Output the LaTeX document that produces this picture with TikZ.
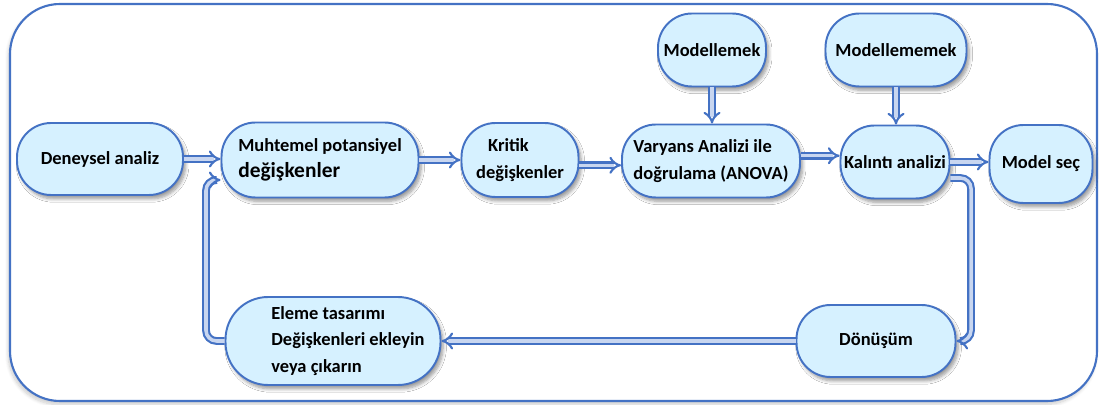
\documentclass[tikz,border=0pt]{standalone}
\usepackage{fontspec}
\setmainfont{Carlito}
\usetikzlibrary{arrows.meta,shadows,shadows.blur}
\definecolor{boxfill}{RGB}{214,241,255}
\definecolor{boxline}{RGB}{68,114,196}
\definecolor{pipe}{RGB}{200,214,240}
\tikzset{
  stepbox/.style={draw=boxline, line width=1.1pt, fill=boxfill, rounded corners=0.68cm,
    font=\fontsize{10.5}{15}\selectfont\bfseries, inner sep=2pt,
    blur shadow={shadow xshift=1.5pt, shadow yshift=-2.2pt, shadow blur steps=6, shadow opacity=40}},
  boxtext/.style={font=\fontsize{10.5}{15}\selectfont\bfseries, inner sep=0pt, align=left},
  flow/.style={draw=boxline, double=pipe, double distance=2pt, line width=1.2pt,
    -{Implies[scale=1.4]}, rounded corners=6pt}
}
\begin{document}
\begin{tikzpicture}[x=0.02cm, y=-0.02cm]
\useasboundingbox (0,0) rectangle (1099,405);
% outer frame
\draw[boxline, line width=1.2pt, rounded corners=1cm,
  blur shadow={shadow xshift=-1pt, shadow yshift=-2pt, shadow blur steps=8, shadow opacity=20}, fill=white]
  (10,4) rectangle (1097,401);

% boxes
\node[stepbox, minimum width=3.32cm, minimum height=1.44cm] (dene) at (100,159) {Deneysel analiz};
\node[stepbox, minimum width=3.94cm, minimum height=1.50cm, align=left] (muht) at (320,160)
  {Muhtemel potansiyel\\{\fontsize{12.2}{15}\selectfont değişkenler}};
\node[stepbox, minimum width=2.34cm, minimum height=1.48cm, align=left] (krit) at (520,160)
  {\hspace*{0.24cm}Kritik\\değişkenler};
\node[stepbox, minimum width=3.56cm, minimum height=1.46cm, align=left] (vary) at (711,161)
  {Varyans Analizi ile\\doğrulama (ANOVA)};
\node[stepbox, minimum width=2.18cm, minimum height=1.46cm] (kalin) at (895,162) {Kalıntı analizi};
\node[stepbox, minimum width=2.06cm, minimum height=1.56cm] (msec) at (1041,164) {Model seç};
\node[stepbox, minimum width=2.16cm, minimum height=1.46cm] (mod1) at (712,50) {Modellemek};
\node[stepbox, minimum width=2.82cm, minimum height=1.46cm] (mod2) at (896,50) {Modellememek};
\node[stepbox, minimum width=4.30cm, minimum height=1.76cm, rounded corners=0.85cm] (elem) at (333,341) {};
\node[boxtext, anchor=west] (elemtext) at (271,341)
  {Eleme tasarımı\\Değişkenleri ekleyin\\veya çıkarın};
\node[stepbox, minimum width=3.18cm, minimum height=1.44cm] (donu) at (876,341) {Dönüşüm};

% connectors
\coordinate (k1) at (971,178);
\coordinate (e1) at (206,341);
\draw[flow] (dene.east) -- (dene.east -| muht.west);
\draw[flow] (muht.east) -- (muht.east -| krit.west);
\draw[flow] ([yshift=-3pt]krit.east) -- ([yshift=-3pt]krit.east -| vary.west);
\draw[flow] ([yshift=3pt]vary.east) -- ([yshift=3pt]vary.east -| kalin.west);
\draw[flow] (kalin.east) -- (kalin.east -| msec.west);
\draw[flow] (mod1.south) -- (mod1.south |- vary.north);
\draw[flow] (mod2.south) -- (mod2.south |- kalin.north);
\draw[flow] (kalin.east |- k1) -- (k1) -- (k1 |- donu.east) -- (donu.east);
\draw[flow] (donu.west) -- (elem.east);
\draw[flow] (elem.west) -- (e1) -- (e1 |- 0,180) -- (muht.west |- 0,180);
\end{tikzpicture}
\end{document}
